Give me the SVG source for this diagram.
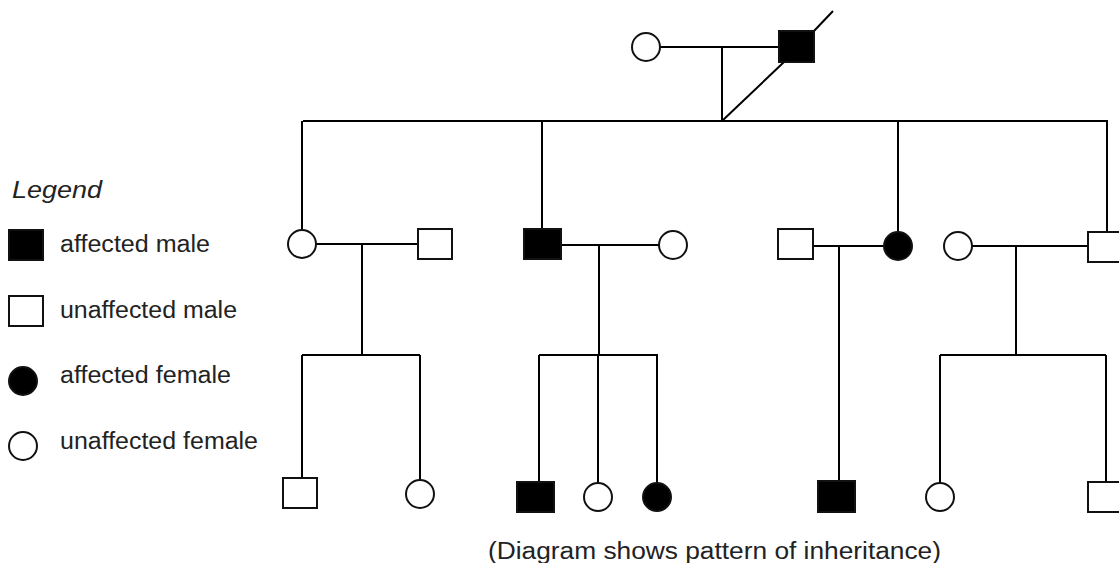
<svg xmlns="http://www.w3.org/2000/svg" width="1119" height="563" viewBox="0 0 1119 563">
<style>
.ln{stroke:#000;stroke-width:2;fill:none}
.m{fill:#fff;stroke:#111;stroke-width:2}
.ma{fill:#000;stroke:#111;stroke-width:2}
.t{font-family:"Liberation Sans",Arial,sans-serif;font-size:23px;fill:#222}
</style>
<rect width="1119" height="563" fill="#fff"/>
<g id="connectors">
<line class="ln" x1="660" y1="47" x2="779" y2="47"/>
<line class="ln" x1="722" y1="47" x2="722" y2="121"/>
<line class="ln" x1="784" y1="62" x2="722" y2="121"/>
<line class="ln" x1="814" y1="31" x2="833" y2="11"/>
<line class="ln" x1="303" y1="121" x2="1108" y2="121"/>
<line class="ln" x1="302" y1="121" x2="302" y2="230"/>
<line class="ln" x1="542" y1="121" x2="542" y2="229"/>
<line class="ln" x1="898" y1="121" x2="898" y2="232"/>
<line class="ln" x1="1107" y1="121" x2="1107" y2="232"/>
<line class="ln" x1="316" y1="244" x2="418" y2="244"/>
<line class="ln" x1="362" y1="244" x2="362" y2="355"/>
<line class="ln" x1="302" y1="355" x2="420" y2="355"/>
<line class="ln" x1="302" y1="355" x2="302" y2="478"/>
<line class="ln" x1="420" y1="355" x2="420" y2="480"/>
<line class="ln" x1="561" y1="245" x2="659" y2="245"/>
<line class="ln" x1="599" y1="245" x2="599" y2="355"/>
<line class="ln" x1="539" y1="355" x2="658" y2="355"/>
<line class="ln" x1="539" y1="355" x2="539" y2="482"/>
<line class="ln" x1="598" y1="355" x2="598" y2="483"/>
<line class="ln" x1="657" y1="355" x2="657" y2="483"/>
<line class="ln" x1="813" y1="246" x2="884" y2="246"/>
<line class="ln" x1="839" y1="246" x2="839" y2="481"/>
<line class="ln" x1="972" y1="246" x2="1088" y2="246"/>
<line class="ln" x1="1016" y1="246" x2="1016" y2="355"/>
<line class="ln" x1="940" y1="355" x2="1106" y2="355"/>
<line class="ln" x1="940" y1="355" x2="940" y2="483"/>
<line class="ln" x1="1106" y1="355" x2="1106" y2="482"/>
</g>
<g id="gen1-mother"><circle class="m" cx="646" cy="47" r="14"/></g>
<g id="gen1-father"><rect class="ma" x="779" y="31" width="35" height="31"/></g>
<g id="gen2-f1"><circle class="m" cx="302" cy="244" r="14"/></g>
<g id="gen2-m1sp"><rect class="m" x="418" y="229" width="34" height="30"/></g>
<g id="gen2-m2"><rect class="ma" x="524" y="229" width="37" height="30"/></g>
<g id="gen2-f2sp"><circle class="m" cx="673" cy="245" r="14"/></g>
<g id="gen2-m3sp"><rect class="m" x="778" y="229" width="35" height="30"/></g>
<g id="gen2-f3"><circle class="ma" cx="898" cy="246" r="14"/></g>
<g id="gen2-f4sp"><circle class="m" cx="958" cy="246" r="14"/></g>
<g id="gen2-m4"><rect class="m" x="1088" y="232" width="40" height="30"/></g>
<g id="gen3-a1"><rect class="m" x="283" y="478" width="34" height="30"/></g>
<g id="gen3-a2"><circle class="m" cx="420" cy="494" r="14"/></g>
<g id="gen3-b1"><rect class="ma" x="517" y="482" width="37" height="30"/></g>
<g id="gen3-b2"><circle class="m" cx="598" cy="497" r="14"/></g>
<g id="gen3-b3"><circle class="ma" cx="657" cy="497" r="14"/></g>
<g id="gen3-c1"><rect class="ma" x="818" y="481" width="37" height="31"/></g>
<g id="gen3-d1"><circle class="m" cx="940" cy="497" r="14"/></g>
<g id="gen3-d2"><rect class="m" x="1088" y="482" width="40" height="30"/></g>
<g id="legend">
<text class="t" x="12" y="198" font-style="italic" textLength="90" lengthAdjust="spacingAndGlyphs">Legend</text>
<rect class="ma" x="9" y="230" width="34" height="30"/>
<text class="t" x="60" y="252" textLength="150" lengthAdjust="spacingAndGlyphs">affected male</text>
<rect class="m" x="9" y="296" width="34" height="30"/>
<text class="t" x="60" y="318" textLength="177" lengthAdjust="spacingAndGlyphs">unaffected male</text>
<circle class="ma" cx="23" cy="381" r="14"/>
<text class="t" x="60" y="383" textLength="171" lengthAdjust="spacingAndGlyphs">affected female</text>
<circle class="m" cx="23" cy="446" r="14"/>
<text class="t" x="60" y="449" textLength="198" lengthAdjust="spacingAndGlyphs">unaffected female</text>
</g>
<text class="t" x="488" y="559" textLength="453" lengthAdjust="spacingAndGlyphs">(Diagram shows pattern of inheritance)</text>
</svg>
